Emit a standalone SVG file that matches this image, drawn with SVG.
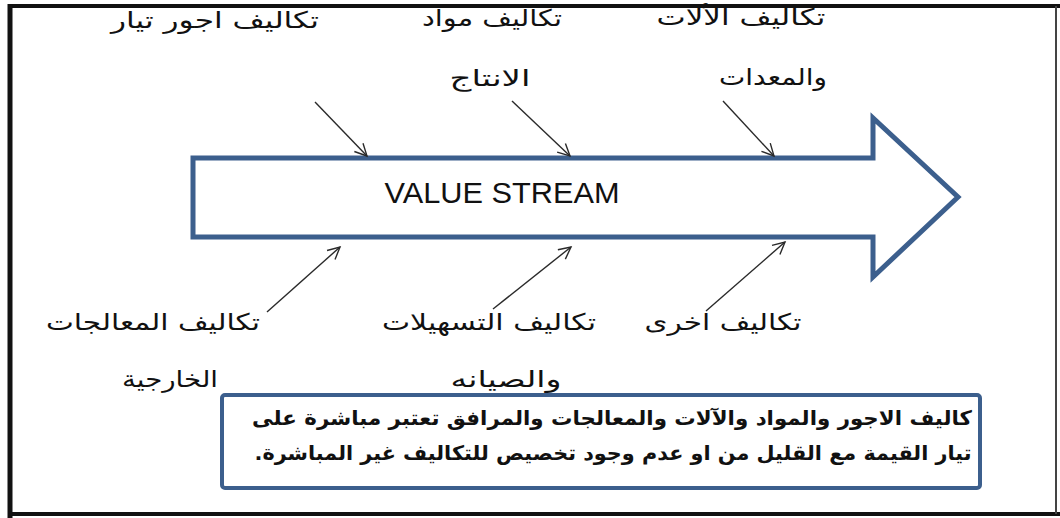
<svg xmlns="http://www.w3.org/2000/svg" width="1060" height="518" viewBox="0 0 1060 518">
<style>
.lbl{font-family:"DejaVu Sans","Noto Sans",sans-serif;font-size:23px;fill:#111;text-anchor:middle;direction:rtl}
.note{font-family:"DejaVu Sans","Noto Sans",sans-serif;font-size:20px;font-weight:bold;fill:#111;text-anchor:middle;direction:rtl}
.con{stroke:#2a2a2a;stroke-width:1.4;fill:none;marker-end:url(#ah)}
.frame{stroke:#111;fill:none}
</style>
<defs>
<marker id="ah" markerUnits="userSpaceOnUse" markerWidth="16" markerHeight="16" refX="13" refY="7" orient="auto" viewBox="0 0 16 14">
<path d="M1,1 L13,7 L1,13" fill="none" stroke="#2a2a2a" stroke-width="1.4"/>
</marker>
</defs>
<rect width="1060" height="518" fill="#fff"/>
<g id="frame">
<line class="frame" x1="8" y1="6" x2="1060" y2="6" stroke-width="4"/>
<line class="frame" x1="10" y1="4" x2="10" y2="518" stroke-width="5"/>
<line class="frame" x1="8" y1="514" x2="1060" y2="514" stroke-width="4"/>
<line x1="1056" y1="6" x2="1056" y2="514" stroke="#444" stroke-width="2"/>
</g>
<g id="value-stream">
<path d="M193,158 L873,158 L873,118 L958,197 L873,277 L873,237 L193,237 Z" fill="#fff" stroke="#3c5f8d" stroke-width="5" stroke-linejoin="miter"/>
<text x="502" y="203" font-family="'Liberation Sans Narrow','Liberation Sans',sans-serif" font-size="29" fill="#111" text-anchor="middle" textLength="235" lengthAdjust="spacingAndGlyphs">VALUE STREAM</text>
</g>
<g id="connectors">
<line class="con" x1="315" y1="102" x2="367" y2="156"/>
<line class="con" x1="512" y1="101" x2="570" y2="156"/>
<line class="con" x1="723" y1="101" x2="774" y2="156"/>
<line class="con" x1="267" y1="312" x2="340" y2="247"/>
<line class="con" x1="493" y1="309" x2="571" y2="247"/>
<line class="con" x1="706" y1="311" x2="785" y2="242"/>
</g>
<g id="labor">
<text class="lbl" x="215" y="28" textLength="208" lengthAdjust="spacingAndGlyphs">تكاليف اجور تيار</text>
</g>
<g id="materials">
<text class="lbl" x="492" y="26" textLength="140" lengthAdjust="spacingAndGlyphs">تكاليف مواد</text>
<text class="lbl" x="490" y="86" textLength="81" lengthAdjust="spacingAndGlyphs">الانتاج</text>
</g>
<g id="machines">
<text class="lbl" x="741" y="25" textLength="169" lengthAdjust="spacingAndGlyphs">تكاليف الألات</text>
<text class="lbl" x="773" y="85" textLength="108" lengthAdjust="spacingAndGlyphs">والمعدات</text>
</g>
<g id="processing">
<text class="lbl" x="153" y="330" textLength="214" lengthAdjust="spacingAndGlyphs">تكاليف المعالجات</text>
<text class="lbl" x="170" y="387" textLength="96" lengthAdjust="spacingAndGlyphs">الخارجية</text>
</g>
<g id="facilities">
<text class="lbl" x="489" y="330" textLength="214" lengthAdjust="spacingAndGlyphs">تكاليف التسهيلات</text>
<text class="lbl" x="506" y="387" textLength="111" lengthAdjust="spacingAndGlyphs">والصيانه</text>
</g>
<g id="other">
<text class="lbl" x="723" y="330" textLength="157" lengthAdjust="spacingAndGlyphs">تكاليف اخرى</text>
</g>
<g id="note">
<rect x="222" y="395" width="758" height="93" rx="3" fill="#fff" stroke="#3c5f8d" stroke-width="4"/>
<text class="note" x="612" y="425" textLength="720" lengthAdjust="spacingAndGlyphs">كاليف الاجور والمواد والآلات والمعالجات والمرافق تعتبر مباشرة على</text>
<text class="note" x="613" y="460" textLength="717" lengthAdjust="spacingAndGlyphs">تيار القيمة مع القليل من او عدم وجود تخصيص للتكاليف غير المباشرة.</text>
</g>
</svg>
